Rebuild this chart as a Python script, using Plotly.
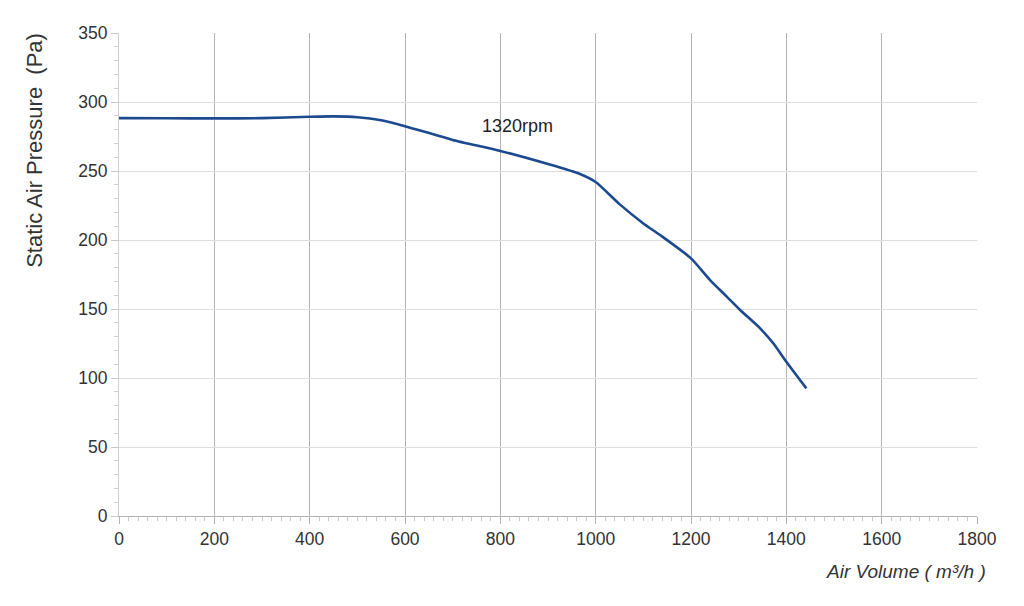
import plotly.graph_objects as go

air_volume = [0, 100, 200, 300, 400, 450, 500, 550, 600, 700, 800, 900, 967, 1000, 1050, 1100, 1135, 1200, 1240, 1275, 1303, 1345, 1373, 1400, 1442]
pressure = [288.3, 288.2, 288.1, 288.3, 289.3, 289.6, 289.0, 286.8, 282.5, 272.5, 264.5, 255.0, 247.8, 242.0, 226.0, 212.0, 203.6, 186.7, 171.0, 159.0, 149.3, 136.0, 125.0, 111.8, 92.5]

x_ticks = [0, 200, 400, 600, 800, 1000, 1200, 1400, 1600, 1800]
y_ticks = [0, 50, 100, 150, 200, 250, 300, 350]
curve_label = "1320rpm"
label_pos = (837, 282.6)

FONT = "Liberation Sans, Arial, sans-serif"

fig = go.Figure()
fig.add_trace(go.Scatter(
    x=air_volume, y=pressure, mode="lines",
    line=dict(color="#1d4a8f", width=2.6, shape="spline", smoothing=0.6),
    hoverinfo="skip", showlegend=False,
))

fig.add_annotation(x=label_pos[0], y=label_pos[1], text=curve_label, showarrow=False,
                   xanchor="center", yanchor="middle",
                   font=dict(family=FONT, size=18, color="#222"))
fig.add_annotation(xref="paper", yref="paper", x=-0.098, y=0.758, text="Static Air Pressure  (Pa)",
                   xanchor="center", yanchor="middle",
                   textangle=-90, showarrow=False, font=dict(family=FONT, size=22, color="#333"))
fig.add_annotation(xref="paper", yref="paper", x=0.917, y=-0.114, text="<i>Air Volume ( m³/h )</i>",
                   xanchor="center", yanchor="middle",
                   showarrow=False, font=dict(family=FONT, size=19, color="#333"))

fig.update_layout(
    width=1024, height=606,
    margin=dict(l=111, r=55, t=25, b=98),
    paper_bgcolor="white", plot_bgcolor="white",
    font=dict(family=FONT, size=17.5, color="#333"),
    xaxis=dict(range=[0, 1800], tickvals=x_ticks, ticktext=[str(v) for v in x_ticks],
               showgrid=True, gridcolor="#b4b4b4", gridwidth=1.3,
               showline=True, linecolor="#b4b4b4", linewidth=1.3,
               ticks="outside", ticklen=7, tickcolor="#b4b4b4", tickwidth=1.3,
               minor=dict(dtick=20, ticks="outside", ticklen=4, tickcolor="#c8c8c8", showgrid=False),
               zeroline=False, tickfont=dict(size=17.5, color="#333"), fixedrange=True),
    yaxis=dict(range=[0, 350], tickvals=y_ticks, ticktext=[str(v) for v in y_ticks],
               showgrid=True, gridcolor="#dedede", gridwidth=1.2,
               showline=True, linecolor="#d0d0d0", linewidth=1.2,
               ticks="outside", ticklen=7, tickcolor="#c8c8c8", tickwidth=1.2,
               minor=dict(dtick=10, ticks="outside", ticklen=4, tickcolor="#d0d0d0", showgrid=False),
               zeroline=False, tickfont=dict(size=17.5, color="#333"), fixedrange=True),
)

fig.write_html("out.html")
